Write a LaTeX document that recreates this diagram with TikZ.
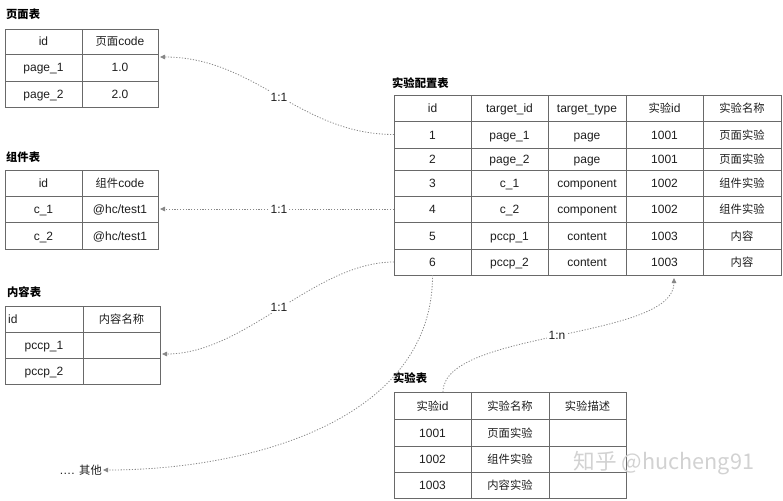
\documentclass[tikz,border=0pt]{standalone}
\usepackage{fontspec}
\setmainfont{Liberation Sans}
\newfontfamily\cjk[Scale=0.94]{Noto Sans CJK SC}
\usetikzlibrary{arrows.meta}
\definecolor{txt}{RGB}{30,30,30}
\definecolor{bord}{RGB}{105,105,105}
\definecolor{conn}{RGB}{135,135,135}
\newcommand\cell[6]{\node[cellbox, minimum width={(#4-#2)*1pt}, minimum height={(#5-#3)*1pt}] (#1) at ({(#2+#4)/2},{(#3+#5)/2}) {#6};}
\begin{document}
\begin{tikzpicture}[x=1pt,y=-1pt,
  cellbox/.style={draw=bord,line width=0.9pt,inner sep=0pt,outer sep=0pt,text=txt,text height=10pt,text depth=1pt,font=\fontsize{12}{14}\selectfont},
  tabtitle/.style={anchor=west,inner sep=0pt,text=black,font=\cjk\bfseries\fontsize{12}{14}\selectfont},
  conn/.style={draw=conn,line width=0.8pt,dash pattern=on 1.2pt off 1.6pt,-{Triangle[length=5pt,width=4.5pt]}},
  lab/.style={fill=white,text=txt,inner sep=2pt,font=\fontsize{12}{14}\selectfont}]
\useasboundingbox (0,0) rectangle (783,500);
\fill[white] (0,0) rectangle (783,500);

% 页面表
\node[tabtitle] (pgt) at (6,14) {页面表};
\cell{pgh1}{5}{29}{82}{54}{id}
\cell{pgh2}{82}{29}{158}{54}{{\cjk 页面}code}
\cell{pg11}{5}{54}{82}{81}{page\_1}
\cell{pg12}{82}{54}{158}{81}{1.0}
\cell{pg21}{5}{81}{82}{107}{page\_2}
\cell{pg22}{82}{81}{158}{107}{2.0}

% 组件表
\node[tabtitle] (cct) at (6,157) {组件表};
\cell{cch1}{5}{170}{82}{196}{id}
\cell{cch2}{82}{170}{158}{196}{{\cjk 组件}code}
\cell{cc11}{5}{196}{82}{222}{c\_1}
\cell{cc12}{82}{196}{158}{222}{@hc/test1}
\cell{cc21}{5}{222}{82}{249}{c\_2}
\cell{cc22}{82}{222}{158}{249}{@hc/test1}

% 内容表
\node[tabtitle] (ctt) at (7,292) {内容表};
\cell{cth1}{5}{306}{83}{332}{}
\node[anchor=west,inner sep=0pt,text=txt,text height=10pt,text depth=1pt,font=\fontsize{12}{14}\selectfont] (cthid) at (8,319) {id};
\cell{cth2}{83}{306}{160}{332}{{\cjk 内容名称}}
\cell{ct11}{5}{332}{83}{358}{pccp\_1}
\cell{ct12}{83}{332}{160}{358}{}
\cell{ct21}{5}{358}{83}{384}{pccp\_2}
\cell{ct22}{83}{358}{160}{384}{}

% 实验配置表
\node[tabtitle] (cft) at (392,83) {实验配置表};
\cell{cfh1}{394}{95}{471}{121}{id}
\cell{cfh2}{471}{95}{548}{121}{target\_id}
\cell{cfh3}{548}{95}{626}{121}{target\_type}
\cell{cfh4}{626}{95}{703}{121}{{\cjk 实验}id}
\cell{cfh5}{703}{95}{781}{121}{{\cjk 实验名称}}
\cell{cf1}{394}{121}{471}{148}{1}
\cell{cf1b}{471}{121}{548}{148}{page\_1}
\cell{cf1c}{548}{121}{626}{148}{page}
\cell{cf1d}{626}{121}{703}{148}{1001}
\cell{cf1e}{703}{121}{781}{148}{{\cjk 页面实验}}
\cell{cf2}{394}{148}{471}{170}{2}
\cell{cf2b}{471}{148}{548}{170}{page\_2}
\cell{cf2c}{548}{148}{626}{170}{page}
\cell{cf2d}{626}{148}{703}{170}{1001}
\cell{cf2e}{703}{148}{781}{170}{{\cjk 页面实验}}
\cell{cf3}{394}{170}{471}{196}{3}
\cell{cf3b}{471}{170}{548}{196}{c\_1}
\cell{cf3c}{548}{170}{626}{196}{component}
\cell{cf3d}{626}{170}{703}{196}{1002}
\cell{cf3e}{703}{170}{781}{196}{{\cjk 组件实验}}
\cell{cf4}{394}{196}{471}{222}{4}
\cell{cf4b}{471}{196}{548}{222}{c\_2}
\cell{cf4c}{548}{196}{626}{222}{component}
\cell{cf4d}{626}{196}{703}{222}{1002}
\cell{cf4e}{703}{196}{781}{222}{{\cjk 组件实验}}
\cell{cf5}{394}{222}{471}{249}{5}
\cell{cf5b}{471}{222}{548}{249}{pccp\_1}
\cell{cf5c}{548}{222}{626}{249}{content}
\cell{cf5d}{626}{222}{703}{249}{1003}
\cell{cf5e}{703}{222}{781}{249}{{\cjk 内容}}
\cell{cf6}{394}{249}{471}{275}{6}
\cell{cf6b}{471}{249}{548}{275}{pccp\_2}
\cell{cf6c}{548}{249}{626}{275}{content}
\cell{cf6d}{626}{249}{703}{275}{1003}
\cell{cf6e}{703}{249}{781}{275}{{\cjk 内容}}

% 实验表
\node[tabtitle] (ext) at (393,378) {实验表};
\cell{exh1}{394}{392}{471}{419}{{\cjk 实验}id}
\cell{exh2}{471}{392}{549}{419}{{\cjk 实验名称}}
\cell{exh3}{549}{392}{626}{419}{{\cjk 实验描述}}
\cell{ex1}{394}{419}{471}{446}{1001}
\cell{ex1b}{471}{419}{549}{446}{{\cjk 页面实验}}
\cell{ex1c}{549}{419}{626}{446}{}
\cell{ex2}{394}{446}{471}{472}{1002}
\cell{ex2b}{471}{446}{549}{472}{{\cjk 组件实验}}
\cell{ex2c}{549}{446}{626}{472}{}
\cell{ex3}{394}{472}{471}{498}{1003}
\cell{ex3b}{471}{472}{549}{498}{{\cjk 内容实验}}
\cell{ex3c}{549}{472}{626}{498}{}

% other
\node[anchor=east,inner sep=1pt,text=txt,font=\fontsize{12}{14}\selectfont] (other) at (103,470) {…. {\cjk 其他}};

% connector end points
\coordinate (t1) at (160,57);
\coordinate (t3) at (162,354);
\coordinate (s5) at (443,392);
\coordinate (t5) at (674,278);

% connectors
\draw[conn] (cf1.west) .. controls (300,134.5) and (255,57) .. (t1);
\node[lab] (l1) at (279,97) {1:1};
\draw[conn,shorten >=2pt] (cf4.west) -- (cc12.east);
\node[lab] (l2) at (279,209) {1:1};
\draw[conn] (cf6.west) .. controls (315,262) and (245,354) .. (t3);
\node[lab] (l3) at (279,307) {1:1};
\draw[conn] (cf6.south) .. controls (433,420) and (250,470) .. (other.east);
\draw[conn] (s5) .. controls (443,330) and (674,340) .. (t5);
\node[lab] (l5) at (557,335) {1:n};

% watermark
\node[text=gray!35,inner sep=0pt,font=\cjk\fontsize{23}{26}\selectfont] (wm) at (664,463) {知乎 @hucheng91};
\end{tikzpicture}
\end{document}
